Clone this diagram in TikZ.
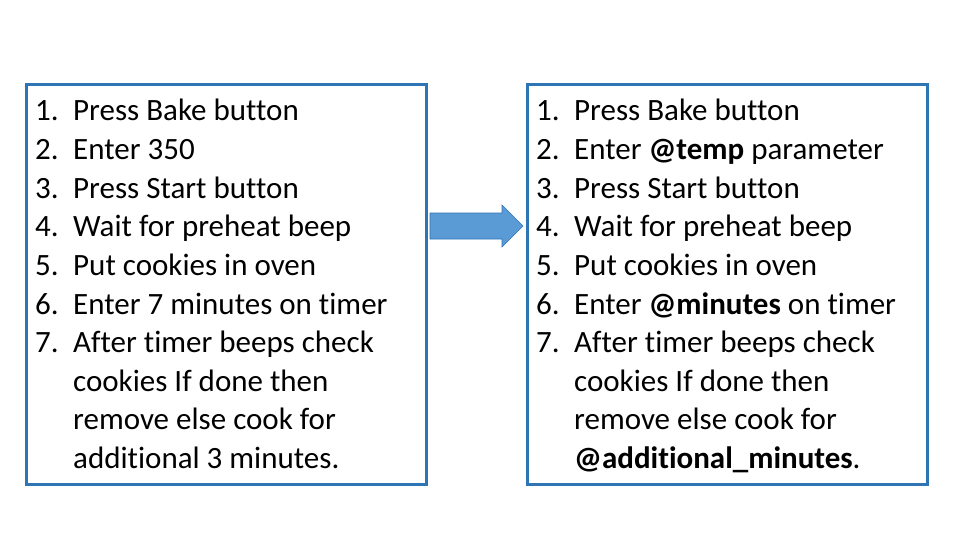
\documentclass[tikz,border=0pt]{standalone}
\usepackage{fontspec}
\setmainfont[Ligatures={NoCommon,NoRequired,NoContextual}]{Carlito}
\definecolor{mblue}{HTML}{2E75B6}
\definecolor{mfill}{HTML}{5B9BD5}
\tikzstyle{box}=[draw=mblue, line width=3pt]
\tikzstyle{num}=[anchor=base west, inner sep=0pt, font=\fontsize{31}{36}\selectfont]
\tikzstyle{txt}=[anchor=base west, inner sep=0pt, font=\fontsize{31}{36}\selectfont]
\begin{document}
\begin{tikzpicture}[x=1pt,y=-1pt]
    \useasboundingbox (0,0) rectangle (967,543);
    \draw[box] (26,85) rectangle (426,484);
    \draw[box] (527,85) rectangle (927,484);
    \fill[mfill, draw=mblue, line width=0.6pt] (430,213) -- (502,213) -- (502,205) -- (523,226)
      -- (502,247) -- (502,239) -- (430,239) -- cycle;
    % left list
    \foreach \n/\t [count=\i] in {1./Press Bake button, 2./Enter 350, 3./Press Start button,
        4./Wait for preheat beep, 5./Put cookies in oven, 6./Enter 7 minutes on timer,
        7./After timer beeps check, /cookies If done then, /remove else cook for,
        /additional 3 minutes.}
      {\node (ln\i) [num] at (35,{121+38.6*(\i-1)}) {\n};
       \node (lt\i) [txt] at (73,{121+38.6*(\i-1)}) {\t};}
    % right list
    \foreach \n/\t [count=\i] in {1./Press Bake button, 2./Enter \textbf{@temp} parameter,
        3./Press Start button, 4./Wait for preheat beep, 5./Put cookies in oven,
        6./Enter \textbf{@minutes} on timer, 7./After timer beeps check,
        /cookies If done then, /remove else cook for, /\textbf{@additional\_minutes}.}
      {\node (rn\i) [num] at (536,{121+38.6*(\i-1)}) {\n};
       \node (rt\i) [txt] at (574,{121+38.6*(\i-1)}) {\t};}
\end{tikzpicture}
\end{document}
